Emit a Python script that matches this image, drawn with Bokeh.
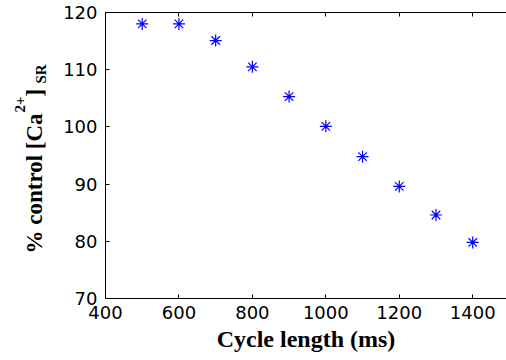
import math
from bokeh.plotting import figure
from bokeh.models import LinearAxis, FixedTicker, Range1d
from bokeh.layouts import row
from bokeh.core.properties import value
from bokeh.embed import file_html
from bokeh.resources import INLINE

# data
cycle_length = [500, 600, 700, 800, 900, 1000, 1100, 1200, 1300, 1400]
pct_control = [118.0, 118.0, 115.1, 110.5, 105.3, 100.1, 94.8, 89.6, 84.6, 79.8]
x_ticks = [400, 600, 800, 1000, 1200, 1400]
y_ticks = [70, 80, 90, 100, 110, 120]
x_label = "Cycle length (ms)"
y_label_parts = ["% control [Ca", "2+", "]", "SR"]

TICK_FONT = "DejaVu Sans"
TICK_SIZE = "18px"
LABEL_FONT = "Liberation Serif"

H = 360
LW = 60  # width of the strip carrying the y-axis title
TOP, BOTTOM = 12, 62

# main plot
p = figure(width=506 - LW, height=H, output_backend="svg", toolbar_location=None,
           x_range=Range1d(400, 1492), y_range=Range1d(70, 120),
           min_border_left=104 - LW, min_border_right=0, min_border_top=TOP,
           min_border_bottom=BOTTOM, x_axis_location=None, y_axis_location=None)
p.outline_line_color = None
p.xgrid.visible = False
p.ygrid.visible = False

def style_axis(ax, ticks, show_labels=True):
    ax.ticker = FixedTicker(ticks=ticks)
    ax.major_tick_in = 4
    ax.major_tick_out = 0
    ax.minor_tick_line_color = None
    ax.major_tick_line_color = "black"
    ax.axis_line_color = "black"
    ax.axis_line_width = 1
    if show_labels:
        ax.major_label_text_font = TICK_FONT
        ax.major_label_text_font_size = TICK_SIZE
        ax.major_label_text_color = "black"
    else:
        ax.major_label_overrides = {t: "" for t in ticks}
        ax.major_label_text_font_size = "1px"
        ax.major_label_standoff = 0

xb = LinearAxis()
style_axis(xb, x_ticks)
xb.major_label_standoff = 7
xb.axis_label = x_label
xb.axis_label_text_font = LABEL_FONT
xb.axis_label_text_font_style = "bold"
xb.axis_label_text_font_size = "24px"
xb.axis_label_text_color = "black"
xb.axis_label_standoff = 4
p.add_layout(xb, "below")

xt = LinearAxis()
style_axis(xt, x_ticks, show_labels=False)
p.add_layout(xt, "above")

yl = LinearAxis()
style_axis(yl, y_ticks)
yl.major_label_standoff = 8
p.add_layout(yl, "left")

p.scatter(cycle_length, pct_control, marker="asterisk", size=12,
          line_color="#0000ff", line_width=1.2)

# strip with the y-axis title: % control [Ca^{2+}]_{SR}
# its frame matches the main frame vertically; y units = pixels from the page bottom
L = figure(width=LW, height=H, output_backend="svg", toolbar_location=None,
           x_range=Range1d(0, LW), y_range=Range1d(BOTTOM, H - TOP),
           min_border_left=0, min_border_right=0, min_border_top=TOP,
           min_border_bottom=BOTTOM, x_axis_location=None, y_axis_location=None)
L.outline_line_color = None
L.xgrid.visible = False
L.ygrid.visible = False
ang = math.pi / 2
piece_pos = [(34, 107), (19, 248), (34, 264), (40, 277)]
piece_size = ["23px", "15px", "23px", "15px"]
for txt, (px, py), fs in zip(y_label_parts, piece_pos, piece_size):
    L.text(x=[px], y=[py], text=[txt], angle=ang,
           text_font=value(LABEL_FONT), text_font_style="bold",
           text_font_size=value(fs), text_color="black",
           text_align="left", text_baseline="alphabetic")

layout = row(L, p, spacing=0)
open("out.html", "w").write(file_html(layout, INLINE))
